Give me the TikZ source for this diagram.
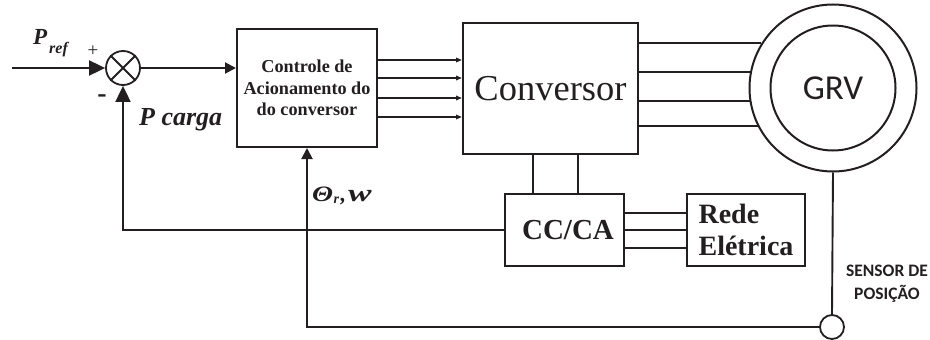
\documentclass[tikz,border=0pt]{standalone}
\usepackage{fontspec}
\usepackage{graphicx}
\setmainfont{Liberation Serif}
\newfontfamily\calib{Carlito}
\usetikzlibrary{arrows.meta}
\definecolor{ink}{HTML}{231F20}
\begin{document}
\begin{tikzpicture}[x=1pt,y=-1pt,
  every node/.style={text=ink},
  blk/.style={draw=ink,line width=2pt,rectangle,inner sep=0pt},
  wire/.style={draw=ink,line width=1.9pt},
  thin/.style={draw=ink,line width=1.3pt},
  bigarr/.style={wire,-{Triangle[length=16pt,width=15pt]}},
  midarr/.style={wire,-{Triangle[length=11pt,width=11pt]}},
  smallarr/.style={wire,-{Triangle[length=6pt,width=4.5pt]}},
  lbl/.style={inner sep=0pt,anchor=base west}]
\useasboundingbox (0,0) rectangle (930,340);
% blocks
\node[draw=ink,line width=1.8pt,circle,minimum size=34pt,inner sep=0pt] (sum) at (123,68) {};
\draw[ink,line width=1.8pt] (sum.45) -- (sum.225) (sum.135) -- (sum.315);
\node[blk,minimum width=140pt,minimum height=118pt,align=center,
  font=\fontsize{18.2}{21.5}\selectfont\bfseries] (ctrl) at (307,88)
  {Controle de\\Acionamento do\\do conversor};
\node[blk,minimum width=175pt,minimum height=131pt,
  font=\fontsize{36.5}{40}\selectfont] (conv) at (550.5,88.5) {Conversor};
\node[draw=ink,line width=2pt,circle,minimum size=167pt,inner sep=0pt] (grvout) at (833,88) {};
\node[draw=ink,line width=2pt,circle,minimum size=125pt,inner sep=0pt,
  font=\calib\fontsize{35}{36}\selectfont] (grv) at (833,88) {GRV};
\node[blk,minimum width=119pt,minimum height=72pt,
  font=\fontsize{29}{32}\selectfont\bfseries] (cc) at (564.5,230) {\hspace{7pt}CC/CA};
\node[blk,minimum width=118pt,minimum height=72pt,align=left,
  font=\fontsize{28}{32}\selectfont\bfseries] (rede) at (746,230) {Rede\\Elétrica};
\node[draw=ink,line width=1.8pt,circle,minimum size=24pt,inner sep=0pt] (sensor) at (832,327) {};
% connectors
\coordinate (in) at (12,68);
\draw[bigarr] (in) -- (sum.west);
\draw[midarr] (sum.east) -- (ctrl.west |- sum);
\foreach \yy in {60,78,98,117}
  \draw[smallarr] (ctrl.east |- 0,\yy) -- (conv.west |- 0,\yy);
\foreach \ang in {148.2,169.7,189,207.8}
  \draw[wire] (conv.east |- grvout.\ang) -- (grvout.\ang);
\foreach \xx in {533,578}
  \draw[thin] (conv.south -| \xx,0) -- (cc.north -| \xx,0);
\foreach \yy in {213,230,248}
  \draw[thin] (cc.east |- 0,\yy) -- (rede.west |- 0,\yy);
\draw[bigarr] (cc.west) -| (sum.south);
\draw[midarr] (sensor.west) -| (ctrl.south);
\draw[wire] (grvout.south) -- (sensor.north);
% labels
\node[lbl,font=\fontsize{23}{23}\selectfont\bfseries\itshape] (pref) at (33,45) {P};
\node[lbl,font=\fontsize{16}{16}\selectfont\bfseries\itshape] (refsub) at (49,53) {ref};
\node[font=\fontsize{19}{19}\selectfont] (plus) at (93,51) {+};
\node[font=\fontsize{28}{28}\selectfont\bfseries] (minus) at (102,99) {-};
\node[lbl,font=\fontsize{26}{26}\selectfont\bfseries\itshape] (pcarga) at (139,125) {P carga};
\node[lbl,font=\fontsize{22}{22}\selectfont\bfseries\itshape] (theta) at (312,201)
  {\scalebox{1.25}[1]{Θ}\kern0.5pt\raisebox{-2pt}{\fontsize{14}{14}\selectfont r}\kern1.5pt,\kern2pt\scalebox{1.6}[1.1]{w}};
\node[align=center,inner sep=0pt,anchor=base,
  font=\calib\fontsize{17.5}{23}\selectfont\bfseries] (sens) at (887,299)
  {SENSOR DE\\POSIÇÃO};
\end{tikzpicture}
\end{document}
